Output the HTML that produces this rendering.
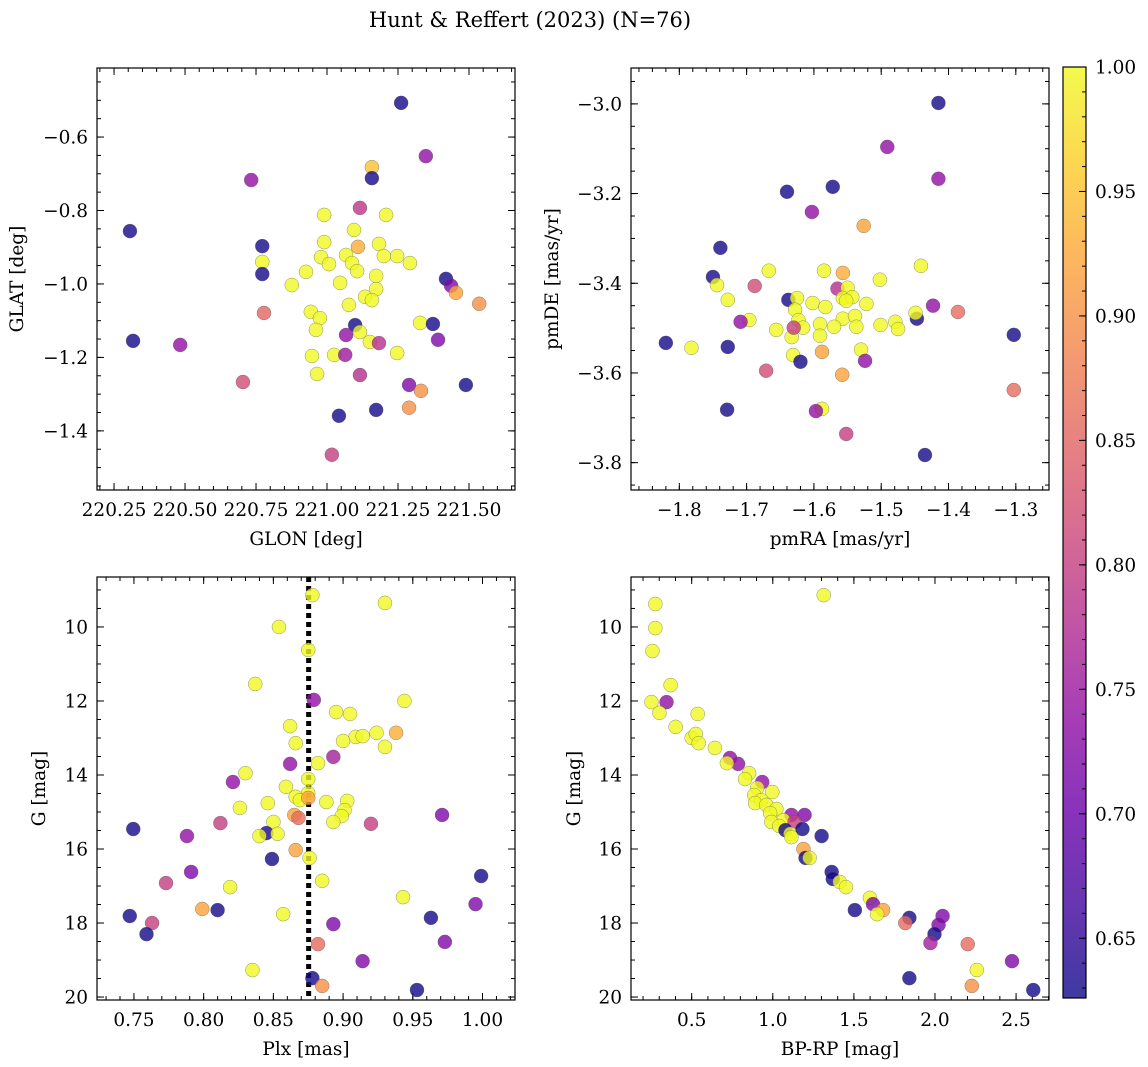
<!DOCTYPE html>
<html><head><meta charset="utf-8"><style>
body{margin:0;background:#fff}
svg{display:block;font-family:"DejaVu Serif","Liberation Serif",serif}
</style></head><body>
<svg id="fig" width="1148" height="1067" viewBox="0 0 1148 1067" xmlns="http://www.w3.org/2000/svg">
<defs>
<linearGradient id="cb" x1="0" y1="1" x2="0" y2="0">
<stop offset="0" stop-color="#0d0887"/><stop offset="0.1" stop-color="#41049d"/><stop offset="0.2" stop-color="#6a00a8"/><stop offset="0.3" stop-color="#8f0da4"/><stop offset="0.4" stop-color="#b12a90"/><stop offset="0.5" stop-color="#cc4778"/><stop offset="0.6" stop-color="#e16462"/><stop offset="0.7" stop-color="#f2844b"/><stop offset="0.8" stop-color="#fca636"/><stop offset="0.9" stop-color="#fcce25"/><stop offset="1" stop-color="#f0f921"/>
</linearGradient>
</defs>
<text x="530" y="27" font-size="21" text-anchor="middle">Hunt &amp; Reffert (2023) (N=76)</text>
<g id="root"></g>
</svg>
<script>
// ---- data ----
const tlGlon=[221.261,221.348,220.733,221.158,221.158,220.306,220.317,220.483,220.772,220.772,220.772,220.778,220.704,221.116,220.990,221.208,221.095,220.990,221.109,221.183,220.979,221.067,221.200,221.247,221.292,221.088,220.926,221.007,221.106,220.876,221.046,221.173,221.173,221.134,221.158,221.077,220.943,220.975,220.961,221.099,221.116,221.067,221.151,221.183,221.025,221.064,220.947,221.247,220.965,221.116,221.328,221.373,221.419,221.437,221.454,221.536,221.391,221.289,221.331,221.289,221.173,221.042,221.017,221.489];
const tlGlat=[-0.507,-0.652,-0.717,-0.682,-0.712,-0.856,-1.155,-1.166,-0.897,-0.940,-0.973,-1.079,-1.267,-0.793,-0.812,-0.812,-0.853,-0.886,-0.899,-0.891,-0.927,-0.921,-0.924,-0.924,-0.943,-0.943,-0.967,-0.946,-0.965,-1.003,-0.997,-0.978,-1.014,-1.035,-1.044,-1.057,-1.076,-1.093,-1.125,-1.112,-1.131,-1.139,-1.158,-1.161,-1.193,-1.193,-1.196,-1.188,-1.245,-1.248,-1.106,-1.109,-0.986,-1.005,-1.024,-1.054,-1.152,-1.275,-1.291,-1.337,-1.343,-1.359,-1.465,-1.275];
const tlProb=[0.63,0.74,0.74,0.95,0.63,0.63,0.63,0.74,0.63,1,0.63,0.85,0.82,0.79,1,1,1,1,0.93,1,1,1,1,1,1,1,1,1,1,1,1,1,1,1,1,1,1,1,1,0.63,1,0.74,1,0.78,1,0.75,1,1,1,0.78,1,0.63,0.63,0.72,0.92,0.9,0.72,0.72,0.9,0.9,0.63,0.63,0.8,0.63];

const trPmra=[-1.303,-1.303,-1.415,-1.415,-1.491,-1.423,-1.386,-1.447,-1.441,-1.449,-1.435,-1.572,-1.640,-1.603,-1.526,-1.739,-1.750,-1.744,-1.667,-1.585,-1.502,-1.557,-1.728,-1.688,-1.638,-1.625,-1.565,-1.550,-1.557,-1.543,-1.602,-1.583,-1.552,-1.522,-1.696,-1.709,-1.656,-1.628,-1.623,-1.591,-1.557,-1.539,-1.537,-1.570,-1.591,-1.616,-1.633,-1.501,-1.479,-1.475,-1.630,-1.588,-1.530,-1.820,-1.782,-1.728,-1.631,-1.620,-1.524,-1.671,-1.558,-1.588,-1.597,-1.729,-1.552];
const trPmde=[-3.515,-3.638,-2.998,-3.167,-3.096,-3.450,-3.464,-3.479,-3.361,-3.466,-3.783,-3.185,-3.196,-3.241,-3.272,-3.321,-3.386,-3.404,-3.372,-3.372,-3.392,-3.377,-3.437,-3.406,-3.437,-3.433,-3.412,-3.410,-3.433,-3.431,-3.444,-3.453,-3.439,-3.446,-3.482,-3.486,-3.504,-3.459,-3.482,-3.491,-3.479,-3.473,-3.497,-3.497,-3.517,-3.499,-3.520,-3.493,-3.486,-3.502,-3.499,-3.553,-3.548,-3.533,-3.544,-3.542,-3.560,-3.575,-3.573,-3.595,-3.604,-3.680,-3.685,-3.682,-3.736];
const trProb=[0.63,0.86,0.63,0.74,0.74,0.74,0.86,0.63,1,1,0.63,0.63,0.63,0.74,0.92,0.63,0.63,1,1,1,1,0.93,1,0.82,0.63,1,0.78,1,1,1,1,1,1,1,1,0.74,1,1,1,1,1,1,1,1,1,1,1,1,1,1,0.8,0.92,1,0.63,1,0.63,1,0.63,0.74,0.82,0.92,1,0.74,0.63,0.8];

const blPlx=[0.878,0.930,0.854,0.875,0.837,0.879,0.944,0.862,0.895,0.905,0.938,0.924,0.909,0.914,0.900,0.930,0.866,0.893,0.882,0.862,0.830,0.821,0.875,0.859,0.875,0.866,0.869,0.875,0.846,0.888,0.903,0.901,0.899,0.893,0.865,0.868,0.850,0.826,0.812,0.7495,0.845,0.840,0.853,0.788,0.920,0.971,0.866,0.849,0.876,0.791,0.773,0.819,0.885,0.999,0.799,0.810,0.857,0.943,0.747,0.963,0.995,0.763,0.759,0.893,0.882,0.973,0.914,0.835,0.878,0.885,0.953];
const blG=[9.14,9.35,10.0,10.62,11.54,11.97,12.0,12.68,12.30,12.35,12.86,12.86,12.97,12.95,13.08,13.24,13.14,13.51,13.68,13.70,13.95,14.19,14.11,14.32,14.49,14.59,14.68,14.62,14.76,14.73,14.70,14.95,15.11,15.27,15.08,15.16,15.27,14.89,15.30,15.46,15.57,15.65,15.59,15.65,15.32,15.08,16.03,16.27,16.24,16.62,16.92,17.03,16.86,16.73,17.62,17.65,17.76,17.30,17.81,17.86,17.49,18.0,18.30,18.03,18.57,18.51,19.03,19.27,19.49,19.70,19.81];
const blProb=[1,1,1,1,1,0.74,1,1,1,1,0.93,1,1,1,1,1,1,0.76,1,0.74,1,0.74,1,1,1,1,1,0.92,1,1,1,1,1,1,0.92,0.86,1,1,0.8,0.63,0.63,1,1,0.74,0.8,0.72,0.92,0.63,1,0.72,0.8,1,1,0.63,0.92,0.63,1,1,0.63,0.63,0.72,0.8,0.63,0.72,0.86,0.72,0.72,1,0.63,0.9,0.63];
const plxLine=0.8753;

const brBprp=[0.276,0.276,0.258,1.314,0.370,0.252,0.345,0.301,0.537,0.401,0.500,0.525,0.543,0.643,0.736,0.786,0.717,0.854,0.829,0.935,0.904,0.885,0.997,0.929,0.891,0.960,1.022,0.984,1.115,1.196,1.065,1.134,0.991,1.040,1.078,1.109,1.183,1.301,1.115,1.189,1.202,1.227,1.363,1.370,1.413,1.451,1.599,1.618,1.680,1.506,1.643,2.047,1.842,1.817,2.022,1.997,1.972,2.202,2.475,2.258,1.842,2.227,2.606];
const brG=[9.38,10.03,10.65,9.14,11.57,12.03,12.03,12.32,12.35,12.70,13.0,12.89,13.14,13.27,13.54,13.70,13.68,13.95,14.11,14.19,14.35,14.54,14.46,14.68,14.76,14.81,14.92,15.03,15.08,15.08,15.22,15.27,15.27,15.38,15.49,15.59,15.46,15.65,15.68,16.0,16.24,16.24,16.62,16.81,16.89,17.03,17.32,17.49,17.65,17.65,17.76,17.81,17.86,18.0,18.05,18.30,18.54,18.57,19.03,19.27,19.49,19.70,19.81];
const brProb=[1,1,1,1,1,1,0.74,1,1,1,1,1,1,1,0.74,0.74,1,1,1,0.74,1,1,1,1,1,1,1,1,0.74,0.72,1,0.8,1,1,0.63,1,0.63,0.63,1,0.92,0.63,1,0.63,0.63,1,1,1,0.72,0.92,0.63,1,0.72,0.63,0.86,0.72,0.63,0.76,0.86,0.72,1,0.63,0.9,0.63];

const cbTicks=[0.65,0.70,0.75,0.80,0.85,0.90,0.95,1.00];
const cbMin=0.626, cbMax=1.0;

// ---- helpers ----
const NS='http://www.w3.org/2000/svg';
const root=document.getElementById('root');
const FS=18.5;
function mk(tag,attrs,parent){const e=document.createElementNS(NS,tag);for(const k in attrs)e.setAttribute(k,attrs[k]);(parent||root).appendChild(e);return e;}
const stops=[[13,8,135],[65,4,157],[106,0,168],[143,13,164],[177,42,144],[204,71,120],[225,100,98],[242,132,75],[252,166,54],[252,206,37],[240,249,33]];
function plasma(v){let t=(v-cbMin)/(cbMax-cbMin);t=Math.max(0,Math.min(1,t))*10;const i=Math.min(9,Math.floor(t)),f=t-i;const a=stops[i],b=stops[i+1];return 'rgb('+a.map((c,k)=>Math.round(c+(b[k]-c)*f)).join(',')+')';}
function fmt(v,d){return (v<-1e-9?'\u2212':'')+Math.abs(v).toFixed(d);}

function panel(o){
  const g=mk('g',{});
  
  
  const sx=v=>o.x0+(v-o.xlim[0])/(o.xlim[1]-o.xlim[0])*(o.x1-o.x0);
  const sy=v=>o.y1-(v-o.ylim[0])/(o.ylim[1]-o.ylim[0])*(o.y1-o.y0);
  const tk=(val,major,axis)=>{const L=major?7:4;
    if(axis==='x'){const x=sx(val);mk('line',{x1:x,x2:x,y1:o.y1,y2:o.y1-L,stroke:'#000','stroke-width':1},g);mk('line',{x1:x,x2:x,y1:o.y0,y2:o.y0+L,stroke:'#000','stroke-width':1},g);}
    else{const y=sy(val);mk('line',{x1:o.x0,x2:o.x0+L,y1:y,y2:y,stroke:'#000','stroke-width':1},g);mk('line',{x1:o.x1,x2:o.x1-L,y1:y,y2:y,stroke:'#000','stroke-width':1},g);}};
  const lo=(a,b)=>[Math.min(a,b),Math.max(a,b)];
  let [xa,xb]=lo(...o.xlim),[ya,yb]=lo(...o.ylim);
  for(let v=Math.ceil(xa/o.xminor-1e-9)*o.xminor;v<=xb+1e-9;v+=o.xminor)tk(v,false,'x');
  for(let v=Math.ceil(ya/o.yminor-1e-9)*o.yminor;v<=yb+1e-9;v+=o.yminor)tk(v,false,'y');
  for(let v=Math.ceil(xa/o.xmajor-1e-9)*o.xmajor;v<=xb+1e-9;v+=o.xmajor){tk(v,true,'x');
    const t=mk('text',{x:sx(v),y:o.y1+26,'font-size':FS,'text-anchor':'middle'},g);t.textContent=fmt(v,o.xd);
    }
  for(let v=Math.ceil(ya/o.ymajor-1e-9)*o.ymajor;v<=yb+1e-9;v+=o.ymajor){tk(v,true,'y');
    const t=mk('text',{x:o.x0-9,y:sy(v)+6.5,'font-size':FS,'text-anchor':'end'},g);t.textContent=fmt(v,o.yd);
    }
  if(o.vline!==undefined){const l=mk('line',{x1:sx(o.vline),x2:sx(o.vline),y1:o.y0,y2:o.y1,stroke:'#000','stroke-width':5,'stroke-dasharray':'5,4'},g);
    }
  for(let i=0;i<o.xs.length;i++){
    const c=mk('circle',{cx:sx(o.xs[i]),cy:sy(o.ys[i]),r:7,fill:plasma(o.ps[i]),'fill-opacity':0.8,stroke:'#555','stroke-width':0.4,'stroke-opacity':0.8},g);
    
    
  }
  const f=mk('rect',{x:o.x0,y:o.y0,width:o.x1-o.x0,height:o.y1-o.y0,fill:'none',stroke:'#000','stroke-width':1.2},g);
  
  const xl=mk('text',{x:(o.x0+o.x1)/2,y:o.y1+55,'font-size':FS,'text-anchor':'middle'},g);xl.textContent=o.xlabel;
  
  const yx=o.ylx,yy=(o.y0+o.y1)/2;
  const yl=mk('text',{x:yx,y:yy,'font-size':FS,'text-anchor':'middle',transform:'rotate(-90 '+yx+' '+yy+')'},g);yl.textContent=o.ylabel;
  
}

panel({name:'glon-glat-panel',x0:97,x1:515,y0:68,y1:490,xlim:[220.190,221.662],ylim:[-1.561,-0.412],xmajor:0.25,xminor:0.05,ymajor:0.2,yminor:0.05,xd:2,yd:1,xs:tlGlon,ys:tlGlat,ps:tlProb,xlabel:'GLON [deg]',ylabel:'GLAT [deg]',ylx:23});
panel({name:'proper-motion-panel',x0:631,x1:1049,y0:68,y1:490,xlim:[-1.8718,-1.2507],ylim:[-3.861,-2.920],xmajor:0.1,xminor:0.02,ymajor:0.2,yminor:0.05,xd:1,yd:1,xs:trPmra,ys:trPmde,ps:trProb,xlabel:'pmRA [mas/yr]',ylabel:'pmDE [mas/yr]',ylx:558});
panel({name:'parallax-mag-panel',x0:97,x1:515,y0:577,y1:1000,xlim:[0.7235,1.0233],ylim:[20.08,8.65],xmajor:0.05,xminor:0.01,ymajor:2,yminor:0.5,xd:2,yd:0,xs:blPlx,ys:blG,ps:blProb,xlabel:'Plx [mas]',ylabel:'G [mag]',ylx:45,vline:plxLine});
panel({name:'cmd-panel',x0:631,x1:1049,y0:577,y1:1000,xlim:[0.1258,2.703],ylim:[20.08,8.65],xmajor:0.5,xminor:0.1,ymajor:2,yminor:0.5,xd:1,yd:0,xs:brBprp,ys:brG,ps:brProb,xlabel:'BP-RP [mag]',ylabel:'G [mag]',ylx:580});

// colorbar
const cg=mk('g',{});


const cx0=1063,cx1=1086,cy0=67,cy1=998;
mk('rect',{x:cx0,y:cy0,width:cx1-cx0,height:cy1-cy0,fill:'url(#cb)','fill-opacity':0.8},cg);
mk('rect',{x:cx0,y:cy0,width:cx1-cx0,height:cy1-cy0,fill:'none',stroke:'#000','stroke-width':1.2},cg);
const cy=v=>cy1-(v-cbMin)/(cbMax-cbMin)*(cy1-cy0);
for(let v=0.63;v<=1.0001;v+=0.01){const y=cy(v);mk('line',{x1:cx1,x2:cx1-4,y1:y,y2:y,stroke:'#000','stroke-width':1},cg);}
cbTicks.forEach(v=>{const y=cy(v);mk('line',{x1:cx1,x2:cx1-7,y1:y,y2:y,stroke:'#000','stroke-width':1},cg);
  const t=mk('text',{x:cx1+9,y:y+6.5,'font-size':FS},cg);t.textContent=v.toFixed(2);
  });
</script>
</body></html>
